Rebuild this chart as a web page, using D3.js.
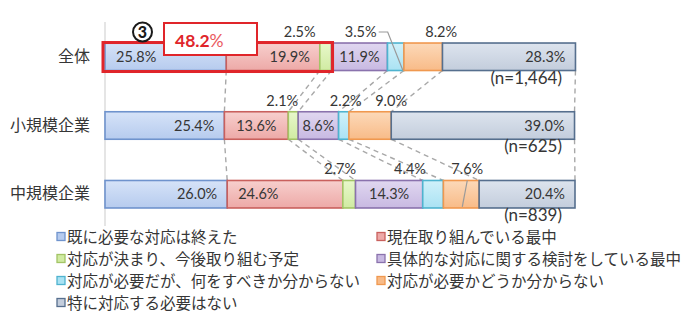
<!DOCTYPE html>
<html>
<head>
<meta charset="utf-8">
<script src="https://cdn.jsdelivr.net/npm/d3@7/dist/d3.min.js"></script>
<style>
  html, body { margin: 0; padding: 0; background: #fff; }
  svg { display: block; }
</style>
</head>
<body>
<svg id="chart" width="686" height="330"></svg>
<script>
// ---- data ----
const categories = ['全体', '小規模企業', '中規模企業'];
const seriesNames = [
  '既に必要な対応は終えた',
  '現在取り組んでいる最中',
  '対応が決まり、今後取り組む予定',
  '具体的な対応に関する検討をしている最中',
  '対応が必要だが、何をすべきか分からない',
  '対応が必要かどうか分からない',
  '特に対応する必要はない'
];
const valuesAll    = [25.8, 19.9, 2.5, 11.9, 3.5, 8.2, 28.3];
const valuesSmall  = [25.4, 13.6, 2.1, 8.6, 2.2, 9.0, 39.0];
const valuesMedium = [26.0, 24.6, 2.7, 14.3, 4.4, 7.6, 20.4];
const sampleSizes  = ['(n=1,464)', '(n=625)', '(n=839)'];
const calloutMark  = '③';
const calloutSeriesCount = 3;   // first three answers are summed in the callout
const xTicks = [0, 100];

// ---- styling ----
const fills = [
  ['#d6e3f8', '#b6cbee'],
  ['#f7cfcd', '#eda9a7'],
  ['#e8f8cb', '#d0eba2'],
  ['#e0d7f0', '#c8b9e2'],
  ['#d0f1fa', '#aae2f3'],
  ['#fcd9b9', '#f8bb88'],
  ['#dde4ee', '#c3cddc']
];
const strokes = ['#6f93cd', '#c9605d', '#a3c466', '#8a72ad', '#4fb3cf', '#f0984f', '#566f8e'];

// where each in-bar label sits; null = label placed above the bar
const labelAlign = [
  ['start', 'end', null, 'middle', null, null, 'end'],
  ['end', 'middle', null, 'middle', null, null, 'end'],
  ['end', 'start', null, 'middle', null, null, 'end']
];
// horizontal shift of labels written above the bar, from the segment centre
const aboveShift = [
  [0, 0, -26, 0, -35, 18, 0],
  [0, 0, -11, 0, 2, 21, 0],
  [0, 0, -9, 0, -23, 6, 0]
];

const jpFont = '"Noto Sans CJK JP", "Noto Sans", sans-serif';
const numFont = 'Lato, "Liberation Sans", sans-serif';
const textColor = '#363636';

const svg = d3.select('#chart');
svg.append('rect').attr('width', 686).attr('height', 330).attr('fill', '#fff');

const defs = svg.append('defs');
fills.forEach((f, i) => {
  const g = defs.append('linearGradient')
    .attr('id', 'grad' + i).attr('x1', 0).attr('y1', 0).attr('x2', 0).attr('y2', 1);
  g.append('stop').attr('offset', '0%').attr('stop-color', f[0]);
  g.append('stop').attr('offset', '100%').attr('stop-color', f[1]);
});

// ---- table & stack ----
const keys = seriesNames.map((_, i) => 's' + i);
const rowsValues = [valuesAll, valuesSmall, valuesMedium];
const table = categories.map((c, r) => {
  const o = { category: c };
  rowsValues[r].forEach((v, i) => { o[keys[i]] = v; });
  return o;
});
const stacked = d3.stack().keys(keys)(table);

// ---- scales ----
const x = d3.scaleLinear().domain([xTicks[0], xTicks[1]]).range([105, 575]);
const y = d3.scaleBand().domain(categories).range([22.4, 228.6])
  .paddingInner(0.6).paddingOuter(0.3);
const bw = y.bandwidth();

// axis line
const yAxis = svg.append('g').attr('transform', `translate(${x(0)},0)`)
  .call(d3.axisLeft(y).tickSize(0).tickPadding(15));
yAxis.select('.domain').attr('stroke', '#d4d4d4').attr('stroke-width', 1.2)
  .attr('d', `M0,22V226`);
yAxis.selectAll('text')
  .attr('font-family', jpFont).attr('font-size', 16).attr('fill', textColor);

// ---- series lines between bars ----
const seriesLines = svg.append('g')
  .attr('stroke', '#a8a8a8').attr('stroke-width', 1.4)
  .attr('stroke-dasharray', '5,4').attr('fill', 'none');
stacked.forEach(layer => {
  for (let r = 0; r < categories.length - 1; r++) {
    seriesLines.append('line')
      .attr('x1', x(layer[r][1])).attr('y1', y(categories[r]) + bw)
      .attr('x2', x(layer[r + 1][1])).attr('y2', y(categories[r + 1]));
  }
});

// ---- bars ----
const layers = svg.append('g').selectAll('g').data(stacked).join('g')
  .attr('fill', (d, i) => `url(#grad${i})`)
  .attr('stroke', (d, i) => strokes[i])
  .attr('stroke-width', 1.6);
layers.selectAll('rect').data(d => d).join('rect')
  .attr('x', d => x(d[0]))
  .attr('y', d => y(d.data.category))
  .attr('width', d => x(d[1]) - x(d[0]))
  .attr('height', bw);

// ---- value labels ----
const labels = svg.append('g')
  .attr('font-family', numFont).attr('font-size', 14.5).attr('fill', textColor);
stacked.forEach((layer, k) => {
  layer.forEach((d, r) => {
    const v = rowsValues[r][k].toFixed(1) + '%';
    const x0 = x(d[0]), x1 = x(d[1]);
    const yTop = y(d.data.category);
    const al = labelAlign[r][k];
    if (al) {
      const tx = al === 'start' ? x0 + 11 : al === 'end' ? x1 - 10 : (x0 + x1) / 2;
      labels.append('text').attr('x', tx).attr('y', yTop + bw / 2 + 5)
        .attr('text-anchor', al).text(v);
    } else {
      const cx = (x0 + x1) / 2 + aboveShift[r][k];
      labels.append('text').attr('x', cx).attr('y', yTop - 6)
        .attr('text-anchor', 'middle').text(v);
    }
  });
});

// leader lines from the labels placed above
const leader = svg.append('g').attr('stroke', '#9a9a9a').attr('stroke-width', 1.2).attr('fill', 'none');
{
  const r = 0, k = 4;
  const d = stacked[k][r];
  const lx = (x(d[0]) + x(d[1])) / 2 + aboveShift[r][k] + 18;
  const ly = y(categories[r]) - 11;
  leader.append('path')
    .attr('d', `M${lx},${ly}H${lx + 9}L${x(d[1]) - 1},${y(categories[r]) + bw}`);
}
{
  const r = 2, k = 5;
  const d = stacked[k][r];
  const lx = (x(d[0]) + x(d[1])) / 2 + aboveShift[r][k];
  leader.append('path')
    .attr('d', `M${lx},${y(categories[r])}L${lx - 5},${y(categories[r]) + bw - 1}`);
}

// sample sizes
svg.append('g').selectAll('text').data(sampleSizes).join('text')
  .attr('x', x(100) - 13)
  .attr('y', (d, i) => y(categories[i]) + bw + 13)
  .attr('text-anchor', 'end')
  .attr('font-family', numFont).attr('font-size', 17).attr('fill', textColor)
  .text(d => d);

// ---- callout ----
const calloutSum = d3.sum(valuesAll.slice(0, calloutSeriesCount));
const red = '#e0252a';
const rowTop = y(categories[0]);
svg.append('rect')
  .attr('x', x(0) - 2).attr('y', rowTop - 0.5)
  .attr('width', x(calloutSum) - x(0) + 3).attr('height', bw + 1.5)
  .attr('fill', 'none').attr('stroke', red).attr('stroke-width', 3);
svg.append('rect')
  .attr('x', 164).attr('y', 23).attr('width', 93).attr('height', 32)
  .attr('fill', '#fff').attr('stroke', red).attr('stroke-width', 2);
const callText = svg.append('text')
  .attr('x', 175).attr('y', 47)
  .attr('font-family', numFont).attr('font-size', 17.5).attr('fill', red);
callText.append('tspan').attr('font-weight', 'bold').text(calloutSum.toFixed(1));
callText.append('tspan').attr('font-weight', 'normal').attr('fill', '#ea5a5e').text('%');

// circled marker
svg.append('circle').attr('cx', 142.5).attr('cy', 32).attr('r', 9.5)
  .attr('fill', '#fff').attr('stroke', '#1a1a1a').attr('stroke-width', 2);
svg.append('text')
  .attr('x', 142.5).attr('y', 38).attr('text-anchor', 'middle')
  .attr('font-family', numFont).attr('font-size', 16).attr('font-weight', 900)
  .attr('fill', '#1a1a1a')
  .text(calloutMark.normalize('NFKC'));

// ---- legend ----
const legend = svg.append('g');
const legendItems = legend.selectAll('g').data(seriesNames).join('g')
  .attr('transform', (d, i) => `translate(${i % 2 === 0 ? 57 : 377},${237 + Math.floor(i / 2) * 22})`);
legendItems.append('rect')
  .attr('x', 0).attr('y', -4.5).attr('width', 8).attr('height', 8)
  .attr('fill', (d, i) => fills[i][1]).attr('stroke', (d, i) => strokes[i]).attr('stroke-width', 1.3);
legendItems.append('text')
  .attr('x', 10).attr('y', 5.5)
  .attr('font-family', jpFont).attr('font-size', 15.5).attr('fill', textColor)
  .text(d => d);
</script>
</body>
</html>
